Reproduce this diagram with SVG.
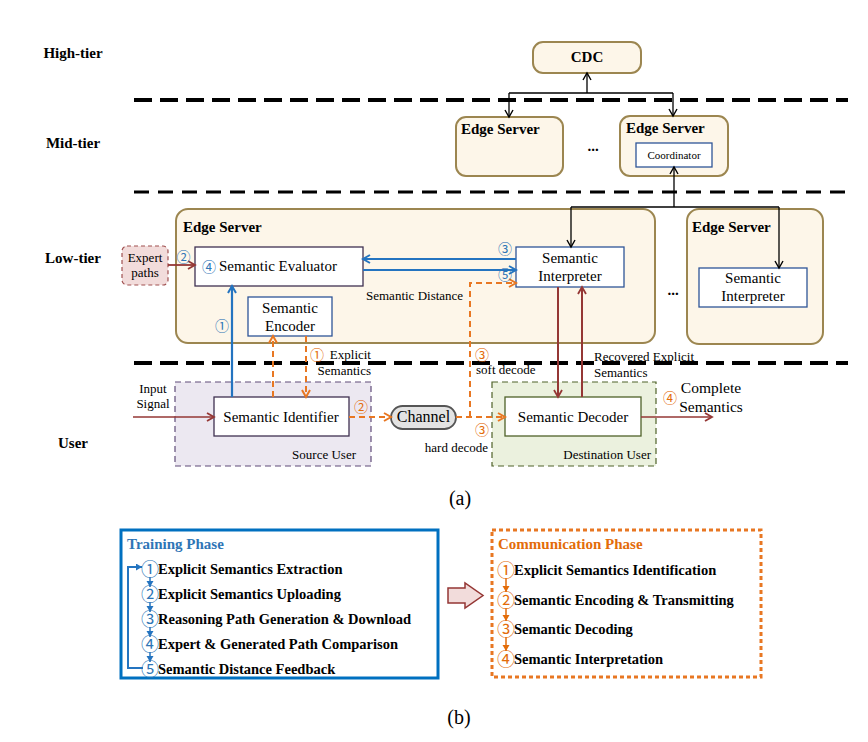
<svg xmlns="http://www.w3.org/2000/svg" width="868" height="742" viewBox="0 0 868 742">
<defs>
<style>
text{font-family:"Liberation Serif","Times New Roman",serif;fill:#000}
.b{font-weight:bold}
.f15{font-size:15px}
.f13{font-size:13px}
.f11{font-size:11px}
.es{fill:#fdf6e9;stroke:#9c8650;stroke-width:2}
.wb{fill:#fff;stroke-width:1.3}
.cn{font-family:"Noto Sans CJK SC","DejaVu Sans",sans-serif;font-size:14px}
.cl{font-family:"Noto Sans CJK SC","DejaVu Sans",sans-serif;font-size:18px}
.cb{fill:#2e75b6}
.co{fill:#e36c09}
.tl{stroke:#000;fill:none}
.k{stroke:#000;stroke-width:1.3;fill:none}
.bl{stroke:#2474c0;stroke-width:2.2;fill:none}
.br{stroke:#953735;fill:none}
.od{stroke:#e87722;stroke-width:2;stroke-dasharray:6 4;fill:none}
.it{font-size:14.5px;font-weight:bold}
</style>
<marker id="mk" markerUnits="userSpaceOnUse" markerWidth="12" markerHeight="12" refX="8" refY="5" orient="auto"><path d="M1,1 L8,5 L1,9" fill="none" stroke="#000" stroke-width="1.4"/></marker>
<marker id="mb" markerUnits="userSpaceOnUse" markerWidth="12" markerHeight="12" refX="8" refY="5" orient="auto"><path d="M1,1 L8,5 L1,9" fill="none" stroke="#2474c0" stroke-width="2"/></marker>
<marker id="mr" markerUnits="userSpaceOnUse" markerWidth="12" markerHeight="12" refX="8" refY="5" orient="auto"><path d="M1,1 L8,5 L1,9" fill="none" stroke="#953735" stroke-width="1.8"/></marker>
<marker id="mo" markerUnits="userSpaceOnUse" markerWidth="12" markerHeight="12" refX="8" refY="5" orient="auto"><path d="M1,1 L8,5 L1,9" fill="none" stroke="#e87722" stroke-width="2"/></marker>
<marker id="tb" markerUnits="userSpaceOnUse" markerWidth="8" markerHeight="8" refX="6" refY="3.5" orient="auto"><path d="M0,0 L6,3.5 L0,7 Z" fill="#2474c0"/></marker>
<marker id="to" markerUnits="userSpaceOnUse" markerWidth="8" markerHeight="8" refX="6" refY="3.5" orient="auto"><path d="M0,0 L6,3.5 L0,7 Z" fill="#e36c09"/></marker>
</defs>
<rect width="868" height="742" fill="#fff"/>

<!-- tier separators -->
<g id="tiers">
<line class="tl" x1="134" y1="100" x2="848" y2="100" stroke-width="4" stroke-dasharray="18 8"/>
<line class="tl" x1="134" y1="192" x2="848" y2="192" stroke-width="3" stroke-dasharray="15 9"/>
<line class="tl" x1="134" y1="363" x2="848" y2="363" stroke-width="4" stroke-dasharray="18 8"/>
<text class="b f15" x="73" y="58" text-anchor="middle">High-tier</text>
<text class="b f15" x="73" y="148" text-anchor="middle">Mid-tier</text>
<text class="b f15" x="73" y="263" text-anchor="middle">Low-tier</text>
<text class="b f15" x="73" y="448" text-anchor="middle">User</text>
</g>

<!-- containers -->
<g id="low-edge-server">
<rect class="es" x="176" y="209" width="479" height="134" rx="12"/>
<text class="b f15" x="183" y="232">Edge Server</text>
</g>
<g id="low-edge-server-2">
<rect class="es" x="687" y="209" width="136" height="135" rx="12"/>
<text class="b f15" x="692" y="232">Edge Server</text>
</g>
<text class="b" font-size="15" x="673" y="295" text-anchor="middle">...</text>
<g id="source-user">
<rect x="175" y="382" width="196" height="84" fill="#ece8f1" stroke="#5f4b78" stroke-width="1.2" stroke-dasharray="6 4"/>
<text class="f13" x="356" y="459" text-anchor="end">Source User</text>
</g>
<g id="destination-user">
<rect x="492" y="382" width="164" height="84" fill="#ebf1de" stroke="#4f6228" stroke-width="1.2" stroke-dasharray="6 4"/>
<text class="f13" x="651" y="459" text-anchor="end">Destination User</text>
</g>

<!-- nodes -->
<g id="cdc">
<rect class="es" x="533" y="42" width="108" height="31" rx="10"/>
<text class="b f15" x="587" y="62" text-anchor="middle">CDC</text>
</g>
<g id="mid-edge-server-1">
<rect class="es" x="456" y="117" width="107" height="59" rx="10"/>
<text class="b f15" x="461" y="134">Edge Server</text>
</g>
<text class="b" font-size="15" x="593" y="151" text-anchor="middle">...</text>
<g id="mid-edge-server-2">
<rect class="es" x="620" y="116" width="108" height="60" rx="10"/>
<text class="b f15" x="626" y="133">Edge Server</text>
</g>
<g id="coordinator">
<rect class="wb" x="636" y="143" width="76" height="24" stroke="#2f5597"/>
<text class="f11" x="674" y="159" text-anchor="middle">Coordinator</text>
</g>
<g id="expert-paths">
<rect x="122" y="246" width="46" height="39" rx="5" fill="#f2dcdb" stroke="#a05050" stroke-width="1.2" stroke-dasharray="4 3"/>
<text class="f13" x="145" y="262" text-anchor="middle">Expert</text>
<text class="f13" x="145" y="277" text-anchor="middle">paths</text>
</g>
<g id="semantic-evaluator">
<rect class="wb" x="195" y="247" width="168" height="39" stroke="#3f3151"/>
<text class="cn cb" x="209" y="271.5" text-anchor="middle">④</text>
<text class="f15" x="219" y="271">Semantic Evaluator</text>
</g>
<g id="semantic-interpreter">
<rect class="wb" x="516" y="247" width="108" height="40" stroke="#2f5597"/>
<text class="f15" x="570" y="263" text-anchor="middle">Semantic</text>
<text class="f15" x="570" y="281" text-anchor="middle">Interpreter</text>
</g>
<g id="semantic-interpreter-2">
<rect class="wb" x="699" y="268" width="108" height="39" stroke="#2f5597"/>
<text class="f15" x="753" y="283" text-anchor="middle">Semantic</text>
<text class="f15" x="753" y="301" text-anchor="middle">Interpreter</text>
</g>
<g id="semantic-encoder">
<rect class="wb" x="248" y="297" width="84" height="39" stroke="#2f5597"/>
<text class="f15" x="290" y="313" text-anchor="middle">Semantic</text>
<text class="f15" x="290" y="331" text-anchor="middle">Encoder</text>
</g>
<g id="semantic-identifier">
<rect class="wb" x="214" y="397" width="135" height="39" stroke="#3f3151"/>
<text class="f15" x="281" y="422" text-anchor="middle">Semantic Identifier</text>
</g>
<g id="channel">
<rect x="391" y="406" width="65" height="23" rx="11.5" fill="#e3e3e3" stroke="#555" stroke-width="1.8"/>
<text font-size="16" x="423.5" y="422" text-anchor="middle">Channel</text>
</g>
<g id="semantic-decoder">
<rect class="wb" x="505" y="397" width="136" height="39" stroke="#4f6228"/>
<text class="f15" x="573" y="422" text-anchor="middle">Semantic Decoder</text>
</g>

<!-- connectors -->
<g id="connectors">
<path class="k" d="M587,93 V73" marker-end="url(#mk)"/>
<path class="k" d="M509,93 H673"/>
<path class="k" d="M509,93 V117" marker-end="url(#mk)"/>
<path class="k" d="M673,93 V116" marker-end="url(#mk)"/>
<path class="k" d="M674,207 V167" marker-end="url(#mk)"/>
<path class="k" d="M571,207 H779"/>
<path class="k" d="M571,207 V247" marker-end="url(#mk)"/>
<path class="k" d="M779,207 V268" marker-end="url(#mk)"/>
<path class="br" stroke-width="1.8" d="M168,265 H195" marker-end="url(#mr)"/>
<path class="bl" d="M516,259 H363" marker-end="url(#mb)"/>
<path class="bl" d="M363,270 H516" marker-end="url(#mb)"/>
<path class="bl" d="M232,397 V286" marker-end="url(#mb)"/>
<path class="od" d="M273,397 V336" marker-end="url(#mo)"/>
<path class="od" d="M306,336 V397" marker-end="url(#mo)"/>
<path class="od" d="M349,417 H391" marker-end="url(#mo)"/>
<path class="od" d="M456,417 H505" marker-end="url(#mo)"/>
<path class="od" d="M470,417 V283 H516" marker-end="url(#mo)"/>
<path class="br" stroke-width="2" d="M558,287 V397" marker-end="url(#mr)"/>
<path class="br" stroke-width="2" d="M582,397 V287" marker-end="url(#mr)"/>
<path class="br" stroke-width="1.3" d="M133,417 H214" marker-end="url(#mr)"/>
<path class="br" stroke-width="1.3" d="M641,417 H712" marker-end="url(#mr)"/>
</g>

<!-- connector labels -->
<g id="labels">
<text class="cn cb" x="183.5" y="262" text-anchor="middle">②</text>
<text class="cn cb" x="505" y="254" text-anchor="middle">③</text>
<text class="cn cb" x="505" y="280" text-anchor="middle">⑤</text>
<text class="cn cb" x="222" y="331" text-anchor="middle">①</text>
<text class="f13" x="366" y="300">Semantic Distance</text>
<text class="cn co" x="317" y="360" text-anchor="middle">①</text>
<text class="f13" x="371" y="359" text-anchor="end">Explicit</text>
<text class="f13" x="371" y="375" text-anchor="end">Semantics</text>
<text class="cn co" x="482" y="360" text-anchor="middle">③</text>
<text class="f13" x="476" y="374">soft decode</text>
<text class="cn co" x="482" y="435" text-anchor="middle">③</text>
<text class="f13" x="488" y="452" text-anchor="end">hard decode</text>
<text class="cn co" x="361" y="412" text-anchor="middle">②</text>
<text class="f13" x="594" y="361">Recovered Explicit</text>
<text class="f13" x="594" y="377">Semantics</text>
<text class="cn co" x="670" y="403" text-anchor="middle">④</text>
<text font-size="15.5" x="711" y="393" text-anchor="middle">Complete</text>
<text font-size="15.5" x="711" y="412" text-anchor="middle">Semantics</text>
<text class="f13" x="153" y="393" text-anchor="middle">Input</text>
<text class="f13" x="153" y="408" text-anchor="middle">Signal</text>
<text font-size="20" x="460" y="505" text-anchor="middle">(a)</text>
<text font-size="20" x="459" y="724" text-anchor="middle">(b)</text>
</g>

<!-- part (b) -->
<g id="training-phase">
<rect x="121" y="530" width="317" height="148" fill="#fff" stroke="#0070c0" stroke-width="3"/>
<text class="b f15" x="127" y="549" style="fill:#2e75b6">Training Phase</text>
<path d="M150,577 V587 M150,602 V612 M150,627 V637 M150,652 V662" stroke="#2474c0" stroke-width="1.5" fill="none"/>
<path d="M150,580 V587" stroke="none" fill="none" marker-end="url(#tb)"/>
<path d="M150,605 V612" stroke="none" fill="none" marker-end="url(#tb)"/>
<path d="M150,630 V637" stroke="none" fill="none" marker-end="url(#tb)"/>
<path d="M150,655 V662" stroke="none" fill="none" marker-end="url(#tb)"/>
<path d="M143,668 H128 V567 H142" stroke="#2474c0" stroke-width="2" fill="none" marker-end="url(#tb)"/>
<text class="cl cb" x="150" y="575.8" text-anchor="middle">①</text>
<text class="cl cb" x="150" y="600.8" text-anchor="middle">②</text>
<text class="cl cb" x="150" y="625.8" text-anchor="middle">③</text>
<text class="cl cb" x="150" y="650.8" text-anchor="middle">④</text>
<text class="cl cb" x="150" y="675.8" text-anchor="middle">⑤</text>
<text class="it" x="158" y="574">Explicit Semantics Extraction</text>
<text class="it" x="158" y="599">Explicit Semantics Uploading</text>
<text class="it" x="158" y="624">Reasoning Path Generation &amp; Download</text>
<text class="it" x="158" y="649">Expert &amp; Generated Path Comparison</text>
<text class="it" x="158" y="674">Semantic Distance Feedback</text>
</g>
<g id="phase-arrow">
<polygon points="448,588 465,588 465,583 483,595.5 465,608 465,603 448,603" fill="#f2dcdb" stroke="#943634" stroke-width="1.5"/>
</g>
<g id="communication-phase">
<rect x="492" y="530" width="269" height="147" fill="#fff" stroke="#e87722" stroke-width="3" stroke-dasharray="4 3"/>
<text class="b f15" x="498" y="549" style="fill:#e36c09">Communication Phase</text>
<path d="M506,578 V592 M506,608 V621 M506,637 V651" stroke="#e36c09" stroke-width="1.5" fill="none"/>
<path d="M506,586 V592" stroke="none" fill="none" marker-end="url(#to)"/>
<path d="M506,615 V621" stroke="none" fill="none" marker-end="url(#to)"/>
<path d="M506,645 V651" stroke="none" fill="none" marker-end="url(#to)"/>
<text class="cl co" x="506" y="576.8" text-anchor="middle">①</text>
<text class="cl co" x="506" y="606.8" text-anchor="middle">②</text>
<text class="cl co" x="506" y="635.8" text-anchor="middle">③</text>
<text class="cl co" x="506" y="665.8" text-anchor="middle">④</text>
<text class="it" x="514" y="575">Explicit Semantics Identification</text>
<text class="it" x="514" y="605">Semantic Encoding &amp; Transmitting</text>
<text class="it" x="514" y="634">Semantic Decoding</text>
<text class="it" x="514" y="664">Semantic Interpretation</text>
</g>
</svg>
